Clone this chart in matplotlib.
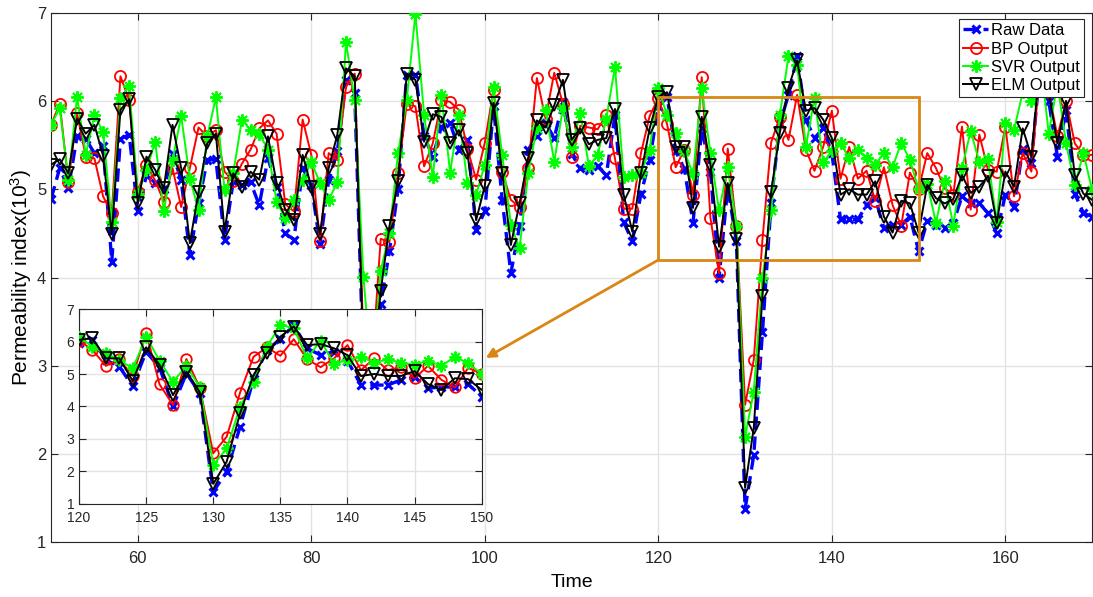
import numpy as np
import matplotlib
matplotlib.use('Agg')
import matplotlib.pyplot as plt
from matplotlib.patches import Rectangle

plt.rcParams['font.family'] = ['Liberation Sans', 'DejaVu Sans']
plt.rcParams['mathtext.fontset'] = 'custom'
plt.rcParams['mathtext.rm'] = 'Liberation Sans'
plt.rcParams['mathtext.default'] = 'regular'

# time axis
time = list(range(50, 171))

raw_data = [
    4.89, 5.24, 5.01, 5.60, 5.57, 5.41, 5.49, 4.18, 5.57, 5.62,
    4.75, 5.16, 5.07, 5.00, 5.40, 5.11, 4.26, 4.84, 5.33, 5.34,
    4.43, 5.09, 5.05, 5.08, 4.82, 5.35, 5.03, 4.50, 4.43, 5.24,
    5.05, 4.38, 5.10, 5.43, 6.24, 6.09, 3.00, 2.60, 3.70, 4.30,
    5.00, 6.30, 6.30, 5.60, 5.37, 5.71, 5.75, 5.45, 5.56, 4.54,
    4.75, 5.94, 4.88, 4.05, 4.58, 5.45, 5.60, 5.75, 5.58, 5.99,
    5.40, 5.24, 5.22, 5.26, 5.16, 5.84, 4.63, 4.41, 4.95, 5.33,
    5.94, 6.05, 5.43, 5.23, 4.62, 5.69, 5.20, 4.00, 5.02, 4.41,
    1.38, 1.99, 3.38, 4.85, 5.74, 6.07, 6.51, 5.79, 5.58, 5.69,
    5.41, 4.66, 4.66, 4.66, 4.82, 4.90, 4.56, 4.60, 4.60, 4.69,
    4.30, 4.64, 4.60, 4.56, 4.62, 4.92, 4.84, 4.84, 4.73, 4.50,
    4.94, 4.80, 5.46, 5.30, 6.40, 6.00, 5.37, 5.90, 4.95, 4.73,
    4.69]

bp_output = [
    5.73, 5.97, 5.08, 5.86, 5.37, 5.35, 4.92, 4.73, 6.28, 6.01,
    4.97, 5.27, 5.10, 4.86, 5.24, 4.80, 5.24, 5.70, 5.60, 5.67,
    5.20, 5.09, 5.29, 5.45, 5.69, 5.78, 5.63, 4.83, 4.75, 5.79,
    5.39, 4.41, 5.41, 5.33, 6.16, 6.31, 3.30, 3.00, 4.44, 4.40,
    5.18, 5.97, 5.94, 5.26, 5.52, 6.01, 5.99, 5.90, 5.46, 5.11,
    5.53, 6.13, 5.20, 4.88, 4.80, 5.24, 6.26, 5.80, 6.32, 5.97,
    5.37, 5.72, 5.70, 5.68, 5.84, 5.35, 4.78, 4.78, 5.41, 5.83,
    6.03, 5.74, 5.25, 5.45, 4.94, 6.27, 4.68, 4.05, 5.46, 4.58,
    2.56, 3.07, 4.43, 5.53, 5.82, 5.56, 6.07, 5.45, 5.21, 5.48,
    5.89, 5.12, 5.48, 5.12, 5.21, 4.87, 5.25, 4.82, 4.59, 5.19,
    5.00, 5.41, 5.24, 5.01, 4.94, 5.71, 4.77, 5.62, 5.22, 5.20,
    5.71, 4.92, 5.41, 5.20, 6.40, 6.10, 5.60, 6.00, 5.52, 5.39,
    5.39]

svr_output = [
    5.73, 5.92, 5.10, 6.05, 5.39, 5.84, 5.65, 4.63, 6.03, 6.17,
    4.95, 5.22, 5.54, 4.75, 5.33, 5.83, 5.12, 4.77, 5.60, 6.04,
    4.99, 5.18, 5.79, 5.67, 5.63, 5.45, 4.86, 4.67, 4.88, 5.10,
    5.31, 5.07, 4.88, 5.08, 6.67, 6.01, 4.01, 2.90, 4.08, 4.50,
    5.41, 6.01, 6.99, 5.84, 5.14, 6.07, 5.19, 5.84, 5.07, 4.94,
    5.28, 6.16, 5.39, 4.60, 4.33, 5.18, 5.70, 5.90, 5.31, 5.92,
    5.48, 5.86, 5.26, 5.39, 5.80, 6.39, 5.14, 5.16, 5.18, 5.45,
    6.15, 5.84, 5.64, 5.43, 5.17, 6.15, 5.41, 4.76, 5.25, 4.59,
    2.20, 2.71, 3.99, 4.76, 5.84, 6.51, 6.41, 5.48, 6.03, 5.31,
    5.43, 5.53, 5.35, 5.45, 5.35, 5.28, 5.41, 5.25, 5.53, 5.33,
    5.00, 5.06, 4.62, 5.09, 4.59, 5.24, 5.66, 5.31, 5.34, 4.63,
    5.75, 5.67, 6.10, 6.00, 6.50, 5.63, 6.20, 5.52, 5.05, 5.41,
    4.99]

elm_output = [
    5.28, 5.34, 5.18, 5.80, 5.63, 5.73, 5.38, 4.49, 5.90, 6.02,
    4.84, 5.37, 5.22, 5.01, 5.73, 5.24, 4.39, 4.97, 5.52, 5.63,
    4.52, 5.18, 5.03, 5.20, 5.11, 5.60, 5.07, 4.77, 4.65, 5.39,
    5.03, 4.49, 5.24, 5.62, 6.37, 6.28, 3.10, 2.80, 3.85, 4.58,
    5.09, 6.31, 6.24, 5.54, 5.85, 5.82, 5.52, 5.67, 5.41, 4.65,
    5.04, 5.98, 5.18, 4.37, 4.84, 5.36, 5.78, 5.70, 5.95, 6.24,
    5.56, 5.69, 5.51, 5.56, 5.58, 5.91, 4.94, 4.52, 5.18, 5.69,
    6.05, 6.10, 5.48, 5.48, 4.79, 5.82, 5.28, 4.35, 5.07, 4.44,
    1.62, 2.30, 3.79, 4.97, 5.64, 6.15, 6.46, 5.89, 5.92, 5.79,
    5.58, 4.94, 5.00, 4.94, 4.94, 5.09, 4.69, 4.51, 4.87, 4.84,
    4.51, 5.05, 4.90, 4.84, 4.89, 5.16, 4.96, 5.03, 5.15, 4.62,
    5.20, 5.03, 5.69, 5.37, 6.45, 6.10, 5.52, 6.00, 5.16, 4.95,
    4.88]

series_labels = ['Raw Data', 'BP Output', 'SVR Output', 'ELM Output']

zoom_x = (120, 150)
zoom_box_y = (4.2, 6.04)
orange = '#D98613'
asterisk = (8, 2, 0)  # MATLAB-like '*' marker


def draw_series(ax, ms_scale=1.0):
    ax.plot(time, raw_data, color='#0000FF', linestyle='--', linewidth=2.4,
            marker='x', markersize=6 * ms_scale, markeredgewidth=2.2,
            dashes=(4, 2), label=series_labels[0], zorder=2)
    ax.plot(time, bp_output, color='#FF0000', linewidth=1.4, marker='o',
            markersize=8 * ms_scale, markerfacecolor='none',
            markeredgewidth=1.3, label=series_labels[1], zorder=3)
    ax.plot(time, svr_output, color='#00FF00', linewidth=1.4,
            marker=asterisk, markersize=9 * ms_scale, markeredgewidth=1.4,
            label=series_labels[2], zorder=4)
    ax.plot(time, elm_output, color='black', linewidth=1.4, marker='v',
            markersize=9 * ms_scale, markerfacecolor='none',
            markeredgewidth=1.3, label=series_labels[3], zorder=5)


def matlab_style(ax, fs):
    ax.grid(True, color='#e3e3e3', linewidth=1.0)
    ax.set_axisbelow(True)
    ax.tick_params(direction='in', length=5, width=0.8, labelsize=fs,
                   top=True, right=True, colors='#262626')
    for s in ax.spines.values():
        s.set_color('#262626')
        s.set_linewidth(0.8)


fig = plt.figure(figsize=(10.93, 5.97), dpi=100)
ax = fig.add_axes([0.0467, 0.0913, 0.9525, 0.8874])
draw_series(ax)
ax.set_xlim(50, 170)
ax.set_ylim(1, 7)
ax.set_xticks([60, 80, 100, 120, 140, 160])
ax.set_yticks([1, 2, 3, 4, 5, 6, 7])
matlab_style(ax, 12)
ax.tick_params(axis='x', pad=6)
ax.set_xlabel('Time', fontsize=14, labelpad=6)
ax.set_ylabel('Permeability index(10$^{3}$)', fontsize=15, labelpad=2)

leg = ax.legend(loc='upper right', bbox_to_anchor=(0.992, 0.988),
                fontsize=12, handlelength=1.5, handletextpad=0.15,
                labelspacing=0.2, borderpad=0.25, borderaxespad=0.0,
                fancybox=False, framealpha=1, edgecolor='#262626')
leg.get_frame().set_linewidth(0.8)
leg.set_zorder(20)

# zoom box on main axes
ax.add_patch(Rectangle((zoom_x[0], zoom_box_y[0]), zoom_x[1] - zoom_x[0],
                       zoom_box_y[1] - zoom_box_y[0], fill=False,
                       edgecolor=orange, linewidth=2.0, zorder=10))
ax.annotate('', xy=(100.1, 3.09), xytext=(zoom_x[0], zoom_box_y[0]),
            arrowprops=dict(arrowstyle='-|>', color=orange, lw=2.0,
                            mutation_scale=14, shrinkA=0, shrinkB=0),
            zorder=10)

# inset
axin = fig.add_axes([0.0723, 0.1558, 0.3684, 0.3266])
draw_series(axin, ms_scale=0.95)
axin.set_xlim(*zoom_x)
axin.set_ylim(1, 7)
axin.set_xticks([120, 125, 130, 135, 140, 145, 150])
axin.set_yticks([1, 2, 3, 4, 5, 6, 7])
matlab_style(axin, 10)
axin.tick_params(axis='x', pad=5)
axin.set_facecolor('white')

fig.savefig('out.png', dpi=100)
